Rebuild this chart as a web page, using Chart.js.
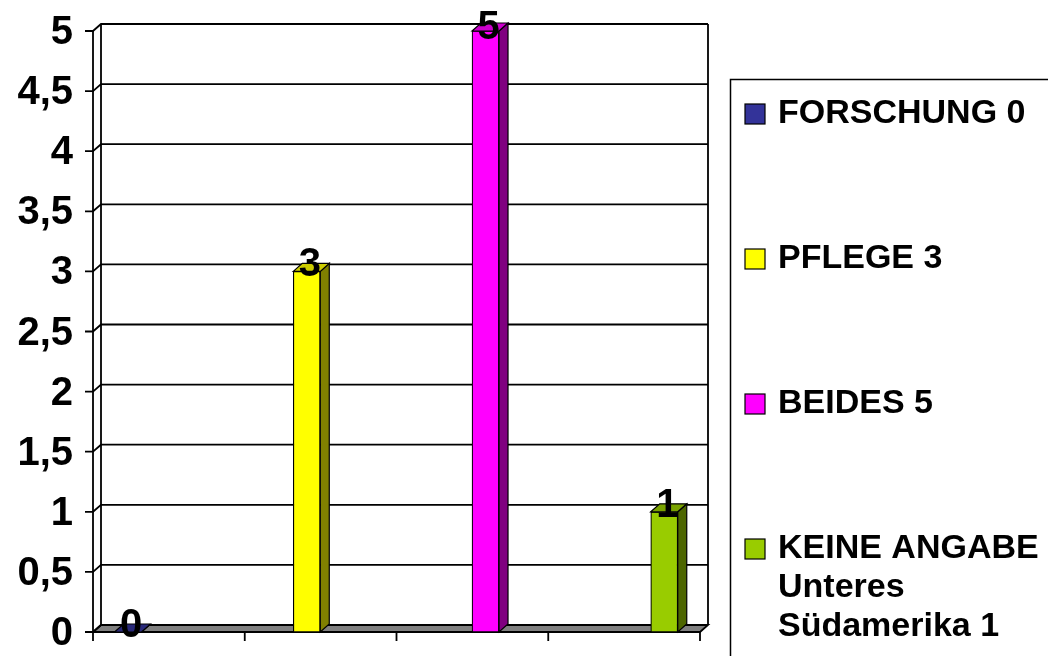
<!DOCTYPE html>
<html>
<head>
<meta charset="utf-8">
<script src="https://cdn.jsdelivr.net/npm/chart.js@4.4.1/dist/chart.umd.min.js"></script>
<style>
  html, body { margin: 0; padding: 0; background: #ffffff; }
  #wrap { position: relative; width: 1048px; height: 656px; }
</style>
</head>
<body>
<div id="wrap"><canvas id="c"></canvas></div>
<script>
// ---- data ----
const SERIES_NAMES = ['FORSCHUNG 0', 'PFLEGE 3', 'BEIDES 5', 'KEINE ANGABE\nUnteres\nSüdamerika 1'];
const VALUES = [0, 3, 5, 1];
const Y_MIN = 0;
const Y_MAX = 5;
const Y_STEP = 0.5;

// ---- styles ----
const FRONT_COLORS = ['#333399', '#FFFF00', '#FF00FF', '#99CC00'];
const SIDE_COLORS  = ['#1a1a4d', '#808000', '#800080', '#4d6600'];
const TOP_COLORS   = ['#29297a', '#cccc00', '#cc00cc', '#7aa300'];
const FONT = '"Liberation Sans", Arial, sans-serif';
const WALL_DX = 8, WALL_DY = -7;   // depth of back wall
const BAR_DX = 9, BAR_DY = -8;     // depth of bars

const fmt = v => String(v).replace('.', ',');

const wallPlugin = {
  id: 'wall3d',
  beforeDatasetsDraw(chart) {
    const { ctx, chartArea, scales } = chart;
    const L = chartArea.left, R = chartArea.right, T = chartArea.top, B = chartArea.bottom;
    const y = scales.y;
    ctx.save();
    ctx.strokeStyle = '#000';
    ctx.lineWidth = 1.8;
    // floor
    ctx.beginPath();
    ctx.moveTo(L, B); ctx.lineTo(R, B); ctx.lineTo(R + WALL_DX, B + WALL_DY); ctx.lineTo(L + WALL_DX, B + WALL_DY);
    ctx.closePath();
    ctx.fillStyle = '#808080';
    ctx.fill();
    ctx.stroke();
    // gridlines on back wall + side wall diagonals + tick marks
    y.ticks.forEach(t => {
      const yy = y.getPixelForValue(t.value);
      ctx.beginPath();
      ctx.moveTo(L - 8, yy);
      ctx.lineTo(L, yy);
      ctx.lineTo(L + WALL_DX, yy + WALL_DY);
      if (t.value !== Y_MIN) ctx.lineTo(R + WALL_DX, yy + WALL_DY);
      ctx.stroke();
    });
    // verticals
    ctx.beginPath();
    ctx.moveTo(L, T); ctx.lineTo(L, B);
    ctx.moveTo(L + WALL_DX, T + WALL_DY); ctx.lineTo(L + WALL_DX, B + WALL_DY);
    ctx.moveTo(R + WALL_DX, T + WALL_DY); ctx.lineTo(R + WALL_DX, B + WALL_DY);
    ctx.stroke();
    // category tick marks along the bottom
    const n = SERIES_NAMES.length;
    ctx.beginPath();
    for (let i = 0; i <= n; i++) {
      const x = L + i * (R - L) / n;
      ctx.moveTo(x, B); ctx.lineTo(x, B + 9);
    }
    ctx.stroke();
    ctx.restore();
  },
  afterDatasetsDraw(chart) {
    const { ctx } = chart;
    ctx.save();
    ctx.strokeStyle = '#000';
    ctx.lineWidth = 1.2;
    chart.data.datasets.forEach((ds, i) => {
      const meta = chart.getDatasetMeta(i);
      meta.data.forEach(el => {
        const p = el.getProps(['x', 'y', 'base', 'width'], true);
        const l = p.x - p.width / 2, r = p.x + p.width / 2;
        // side face
        ctx.beginPath();
        ctx.moveTo(r, p.y); ctx.lineTo(r + BAR_DX, p.y + BAR_DY);
        ctx.lineTo(r + BAR_DX, p.base + BAR_DY); ctx.lineTo(r, p.base);
        ctx.closePath();
        ctx.fillStyle = SIDE_COLORS[i];
        ctx.fill(); ctx.stroke();
        // top face
        ctx.beginPath();
        ctx.moveTo(l, p.y); ctx.lineTo(l + BAR_DX, p.y + BAR_DY);
        ctx.lineTo(r + BAR_DX, p.y + BAR_DY); ctx.lineTo(r, p.y);
        ctx.closePath();
        ctx.fillStyle = TOP_COLORS[i];
        ctx.fill(); ctx.stroke();
      });
    });
    // data labels
    ctx.fillStyle = '#000';
    ctx.font = 'bold 40px ' + FONT;
    ctx.textAlign = 'center';
    ctx.textBaseline = 'middle';
    chart.data.datasets.forEach((ds, i) => {
      const meta = chart.getDatasetMeta(i);
      meta.data.forEach((el, j) => {
        const p = el.getProps(['x', 'y'], true);
        ctx.fillText(String(ds.data[j].y), p.x + 3, Math.max(p.y - 6, 28));
      });
    });
    ctx.restore();
  },
  afterDraw(chart) {
    const { ctx } = chart;
    ctx.save();
    // legend frame
    ctx.strokeStyle = '#000';
    ctx.lineWidth = 1.5;
    ctx.strokeRect(730.5, 79.5, 400, 700);
    ctx.font = 'bold 34px ' + FONT;
    ctx.textAlign = 'left';
    ctx.textBaseline = 'middle';
    chart.data.datasets.forEach((ds, i) => {
      const cy = 114 + i * 145;
      ctx.fillStyle = ds.backgroundColor;
      ctx.fillRect(745, cy - 10, 20, 20);
      ctx.lineWidth = 1.2;
      ctx.strokeRect(745, cy - 10, 20, 20);
      ctx.fillStyle = '#000';
      ds.label.split('\n').forEach((line, k) => {
        ctx.fillText(line, 778, cy + k * 39);
      });
    });
    ctx.restore();
  }
};

const datasets = SERIES_NAMES.map((name, i) => ({
  label: name,
  data: [{ x: i, y: VALUES[i] }],
  backgroundColor: FRONT_COLORS[i],
  borderColor: '#000',
  borderWidth: 1.2,
  borderSkipped: false,
  barThickness: 27,
  grouped: false
}));

new Chart(document.getElementById('c'), {
  type: 'bar',
  data: { datasets },
  options: {
    responsive: true,
    maintainAspectRatio: false,
    animation: false,
    layout: { padding: { top: 31, bottom: 24, left: 0, right: 348 } },
    plugins: { legend: { display: false }, tooltip: { enabled: false } },
    scales: {
      x: {
        type: 'linear',
        min: -0.196,
        max: 3.2,
        offset: false,
        display: false
      },
      y: {
        min: Y_MIN,
        max: Y_MAX,
        ticks: {
          stepSize: Y_STEP,
          padding: 20,
          labelOffset: 2,
          color: '#000',
          font: { family: FONT, size: 40, weight: 'bold' },
          callback: v => fmt(v)
        },
        grid: { display: false, drawTicks: false },
        border: { display: false },
        afterFit: s => { s.width = 93; s.paddingTop = 0; s.paddingBottom = 0; }
      }
    }
  },
  plugins: [wallPlugin]
});
</script>
</body>
</html>
